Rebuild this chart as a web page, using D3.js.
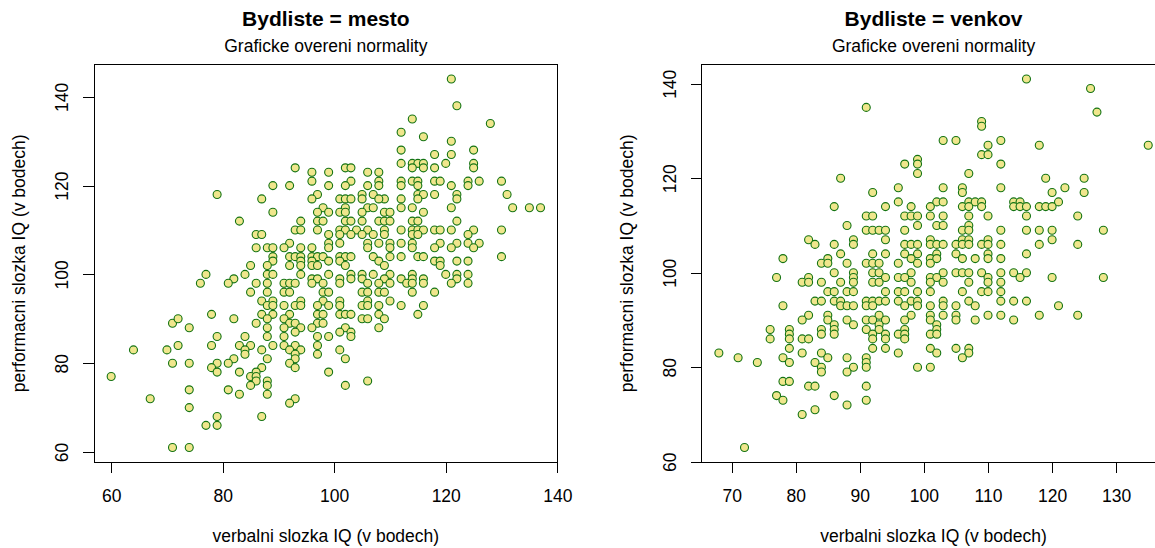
<!DOCTYPE html>
<html>
<head>
<meta charset="utf-8">
<script src="https://cdn.jsdelivr.net/npm/d3@7"></script>
<style>
  body { margin: 0; background: #fff; }
  svg text { font-family: "Liberation Sans", Arial, sans-serif; fill: #000; }
</style>
</head>
<body>
<div id="chart"></div>
<script>
const width = 1155;
const height = 548;

// verbalni (x), performacni (y) slozka IQ, Bydliste = mesto
const mesto = [
  [121,144],[122,138],[114,135],[128,134],[112,132],[116,131],[121,130],[112,128],[125,128],[118,127],[121,127],
  [120,125],[112,125],[114,125],[115,125],[116,125],[125,125],
  [114,124],[116,124],[118,124],[125,124],[102,124],[103,124],[93,124],
  [96,123],[99,123],[106,123],[108,123],
  [112,121],[114,121],[115,121],[118,121],[119,121],[126,121],[130,121],[124,121],[124,120],[108,121],[103,121],[96,121],
  [89,120],[92,120],[99,120],[102,120],[106,120],[108,120],[112,120],[115,120],[121,120],
  [79,118],[97,118],[105,118],[107,118],[115,118],[116,118],[118,118],[122,118],[131,118],
  [87,117],[96,117],[101,117],[102,117],[103,117],[105,117],[109,117],[108,117],[112,117],[115,117],[122,117],
  [98,115],[102,115],[106,115],[107,115],[112,115],[114,115],[121,115],[132,115],[135,115],[137,115],
  [89,114],[97,114],[99,114],[101,114],[102,114],[105,114],[109,114],[110,114],[116,114],
  [83,112],[94,112],[97,112],[98,112],[102,112],[103,112],[105,112],[108,112],[109,112],[110,112],[114,112],[115,112],[122,112],
  [93,110],[94,110],[97,110],[101,110],[102,110],[104,110],[106,110],[109,110],[112,110],[114,110],[115,110],[116,110],
  [118,110],[119,110],[121,110],[125,110],[130,110],
  [86,109],[87,109],[99,109],[101,109],[103,109],[105,109],[107,109],[109,109],[114,109],[115,109],[124,109],
  [92,107],[99,107],[101,107],[106,107],[108,107],[110,107],[112,107],[114,107],[119,107],[122,107],[124,107],[126,107],
  [86,106],[88,106],[89,106],[91,106],[94,106],[96,106],[99,106],[106,106],[110,106],[114,106],[118,106],[121,106],[125,106],
  [89,104],[92,104],[93,104],[94,104],[96,104],[97,104],[98,104],[101,104],[102,104],[103,104],[107,104],[110,104],
  [112,104],[115,104],[116,104],[130,104],
  [89,103],[94,103],[96,103],[99,103],[101,103],[108,103],[118,103],[119,103],[122,103],[124,103],
  [85,102],[88,102],[92,102],[94,102],[96,102],[97,102],[102,102],[109,102],[119,102],
  [77,100],[84,100],[88,100],[89,100],[94,100],[99,100],[103,100],[105,100],[107,100],[110,100],[114,100],[120,100],[122,100],[124,100],
  [82,99],[96,99],[97,99],[101,99],[103,99],[105,99],[109,99],[112,99],[114,99],[116,99],[122,99],
  [76,98],[81,98],[86,98],[88,98],[91,98],[92,98],[93,98],[96,98],[98,98],[101,98],[106,98],[108,98],[110,98],[113,98],
  [114,98],[116,98],[121,98],[124,98],
  [85,96],[88,96],[91,96],[92,96],[98,96],[99,96],[105,96],[106,96],[108,96],[109,96],[114,96],[118,96],
  [87,94],[89,94],[94,94],[98,94],[101,94],[106,94],[110,94],
  [88,93],[89,93],[91,93],[93,93],[94,93],[97,93],[99,93],[101,93],[105,93],[106,93],[108,93],[112,93],[116,93],
  [78,91],[87,91],[89,91],[92,91],[97,91],[98,91],[101,91],[102,91],[103,91],[108,91],[115,91],
  [71,89],[72,90],[82,90],[86,89],[88,90],[91,90],[92,89],[93,89],[97,89],[98,89],[105,90],[106,90],[109,90],
  [74,88],[88,88],[91,88],[94,88],[96,88],[102,88],[108,88],
  [88,86],[91,86],[79,86],[84,86],[93,87],[97,86],[99,86],[103,87],[103,86],[101,87],
  [78,84],[72,84],[83,84],[85,84],[89,84],[91,84],[93,84],[97,84],
  [64,83],[70,83],[84,83],[87,83],[92,83],[94,83],[101,83],
  [84,82],[93,82],[97,82],
  [82,81],[88,81],[93,81],[102,81],
  [71,80],[74,80],[79,80],[81,80],[92,80],
  [78,79],[87,79],[93,79],
  [79,78],[83,78],[86,78],[99,78],
  [60,77],[85,77],[86,77],[88,76],[106,76],[86,76],
  [85,75],[88,75],[102,75],
  [74,74],[81,74],[83,73],[88,73],
  [67,72],[93,72],[92,71],[74,70],[79,68],[87,68],[77,66],[79,66],[71,61],[74,61]
];

// Bydliste = venkov
const venkov = [
  [116,141],[126,139],[127,134],[91,135],[109,132],[109,131],[103,128],[105,128],[112,128],[118,127],[110,127],[135,127],
  [109,125],[110,125],[99,124],[99,123],[99,121],[97,123],[112,123],[107,121],
  [87,120],[119,120],[125,120],
  [96,118],[103,118],[106,118],[112,118],[122,118],
  [92,117],[106,117],[120,117],[125,117],
  [96,115],[102,115],[103,115],[107,115],[108,115],[109,115],[114,115],[115,115],[121,115],
  [86,114],[94,114],[98,114],[101,114],[106,114],[107,114],[109,114],[114,114],[115,114],[116,114],[118,114],[119,114],[120,114],
  [91,112],[92,112],[97,112],[98,112],[99,112],[101,112],[103,112],[107,112],[110,112],[116,112],[124,112],
  [88,110],[99,110],[102,110],[103,110],[107,110],
  [91,109],[92,109],[93,109],[94,109],[97,109],[106,109],[107,109],[112,109],[116,109],[118,109],[120,109],[128,109],
  [82,107],[89,107],[94,107],[101,107],[106,107],[107,107],[110,107],[120,107],
  [83,106],[86,106],[89,106],[97,106],[98,106],[99,106],[101,106],[102,106],[103,106],[105,106],[106,106],[107,106],
  [109,106],[110,106],[112,106],[118,106],[124,106],
  [87,104],[92,104],[94,104],[97,104],[99,104],[102,104],[105,104],[110,104],[116,104],
  [78,103],[85,103],[98,103],[101,103],[102,103],[106,103],[108,103],[110,103],[112,103],
  [84,102],[85,102],[88,102],[91,102],[92,102],[93,102],[96,102],[99,102],[101,102],
  [86,100],[89,100],[92,100],[93,100],[98,100],[103,100],[105,100],[106,100],[107,100],[109,100],[112,100],[114,100],[116,100],
  [77,99],[82,99],[89,99],[94,99],[96,99],[97,99],[101,99],[102,99],[110,99],[115,99],[120,99],[128,99],
  [81,98],[82,98],[84,98],[87,98],[89,98],[92,98],[93,98],[98,98],[101,98],[103,98],[107,98],[110,98],[112,98],
  [85,96],[86,96],[88,96],[89,96],[94,96],[96,96],[97,96],[99,96],[101,96],[106,96],[109,96],[110,96],[112,96],
  [83,94],[84,94],[86,94],[87,94],[91,94],[92,94],[93,94],[94,94],[96,94],[98,94],[99,94],[103,94],[107,94],[112,94],[114,94],[116,94],
  [78,93],[87,93],[88,93],[89,93],[91,93],[92,93],[97,93],[99,93],[101,93],[103,93],[105,93],[108,93],[121,93],
  [82,91],[85,91],[93,91],[98,91],[101,91],[103,91],[105,91],[110,91],[112,91],[118,91],[124,91],
  [81,90],[85,90],[88,90],[91,90],[92,90],[94,90],[97,90],[101,90],[105,90],[108,90],[114,90],
  [86,89],[89,89],[93,89],[102,89],
  [76,88],[79,88],[84,88],[86,88],[91,88],[93,88],[97,88],[102,88],
  [79,87],[84,87],[86,87],[92,87],[94,87],[96,87],[97,87],[101,87],[102,87],
  [76,86],[79,86],[81,86],[82,86],[92,86],[94,86],[97,86],
  [79,84],[92,84],[94,84],[101,84],[105,84],[107,84],
  [68,83],[81,83],[84,83],[96,83],[102,83],[107,83],
  [71,82],[78,82],[85,82],[88,82],[91,82],[106,82],
  [74,81],[79,81],[83,81],[91,81],
  [84,80],[89,80],[91,80],[99,80],[101,80],
  [84,79],[88,79],
  [78,77],[79,77],[82,76],[83,76],[91,76],
  [77,74],[86,74],[78,73],[91,73],[88,72],[83,71],[81,70],[72,63]
];

const mestoXTicks = [60, 80, 100, 120, 140];
const mestoYTicks = [60, 80, 100, 120, 140];
const venkovXTicks = [70, 80, 90, 100, 110, 120, 130];
const venkovYTicks = [60, 80, 100, 120, 140];

const titles = ["Bydliste = mesto", "Bydliste = venkov"];
const subtitle = "Graficke overeni normality";
const xLabel = "verbalni slozka IQ (v bodech)";
const yLabel = "performacni slozka IQ (v bodech)";

const svg = d3.select("#chart").append("svg")
    .attr("width", width)
    .attr("height", height);

// plot box of one panel (second panel is shifted to the right)
const box = { left: 94, right: 557.7, top: 64.3, bottom: 462.3 };
const panelShift = 607.7;

// R-like axis range: data range padded by 4 %
function rRange(values) {
    const [lo, hi] = d3.extent(values);
    const pad = (hi - lo) * 0.04;
    return [lo - pad, hi + pad];
}

function drawPanel(data, xTicks, yTicks, title, dx) {
    const g = svg.append("g").attr("transform", `translate(${dx},0)`);

    const x = d3.scaleLinear()
        .domain(rRange(data.map(d => d[0])))
        .range([box.left, box.right]);
    const y = d3.scaleLinear()
        .domain(rRange(data.map(d => d[1])))
        .range([box.bottom, box.top]);

    // points
    g.append("g")
        .selectAll("circle")
        .data(data)
        .enter().append("circle")
        .attr("cx", d => x(d[0]))
        .attr("cy", d => y(d[1]))
        .attr("r", 4)
        .attr("fill", "#F0E68C")
        .attr("stroke", "#137313")
        .attr("stroke-width", 1.1);

    // box
    g.append("rect")
        .attr("x", box.left)
        .attr("y", box.top)
        .attr("width", box.right - box.left)
        .attr("height", box.bottom - box.top)
        .attr("fill", "none")
        .attr("stroke", "#000")
        .attr("shape-rendering", "crispEdges");

    // x axis
    const xAxis = g.append("g")
        .attr("transform", `translate(0,${box.bottom})`)
        .call(d3.axisBottom(x).tickValues(xTicks).tickSize(11).tickSizeOuter(0));
    xAxis.select(".domain")
        .attr("d", `M${x(xTicks[0])},0H${x(xTicks[xTicks.length - 1])}`)
        .attr("shape-rendering", "crispEdges");
    xAxis.selectAll(".tick line").attr("shape-rendering", "crispEdges");
    xAxis.selectAll("text")
        .attr("y", 40)
        .attr("dy", null)
        .style("font-size", "17.5px")
        .style("font-family", "'Liberation Sans', Arial, sans-serif");

    // y axis
    const yAxis = g.append("g")
        .attr("transform", `translate(${box.left},0)`)
        .call(d3.axisLeft(y).tickValues(yTicks).tickSize(11).tickSizeOuter(0));
    yAxis.select(".domain")
        .attr("d", `M0,${y(yTicks[0])}V${y(yTicks[yTicks.length - 1])}`)
        .attr("shape-rendering", "crispEdges");
    yAxis.selectAll(".tick line").attr("shape-rendering", "crispEdges");
    yAxis.selectAll("text")
        .attr("x", null)
        .attr("dy", null)
        .attr("text-anchor", "middle")
        .attr("transform", "translate(-26,0) rotate(-90)")
        .style("font-size", "17.5px")
        .style("font-family", "'Liberation Sans', Arial, sans-serif");

    const cx = (box.left + box.right) / 2;
    const cy = (box.top + box.bottom) / 2;

    // titles
    g.append("text")
        .attr("x", cx).attr("y", 26)
        .attr("text-anchor", "middle")
        .style("font-size", "21px")
        .style("font-weight", "bold")
        .text(title);
    g.append("text")
        .attr("x", cx).attr("y", 52)
        .attr("text-anchor", "middle")
        .style("font-size", "17.5px")
        .text(subtitle);

    // axis labels
    g.append("text")
        .attr("x", cx).attr("y", 542)
        .attr("text-anchor", "middle")
        .style("font-size", "17.5px")
        .text(xLabel);
    g.append("text")
        .attr("transform", `translate(25,${cy}) rotate(-90)`)
        .attr("text-anchor", "middle")
        .style("font-size", "17.5px")
        .text(yLabel);
}

drawPanel(mesto, mestoXTicks, mestoYTicks, titles[0], 0);
drawPanel(venkov, venkovXTicks, venkovYTicks, titles[1], panelShift);
</script>
</body>
</html>
